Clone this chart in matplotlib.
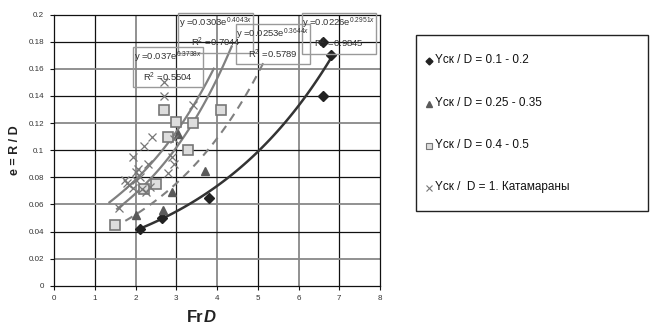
import numpy as np
import matplotlib
matplotlib.use("Agg")
import matplotlib.pyplot as plt
from matplotlib.patches import Rectangle
from matplotlib.lines import Line2D

plt.rcParams['font.family'] = ['Liberation Sans', 'DejaVu Sans']
plt.rcParams['mathtext.fontset'] = 'custom'
plt.rcParams['mathtext.rm'] = 'Liberation Sans'
plt.rcParams['mathtext.it'] = 'Liberation Sans:italic'
plt.rcParams['mathtext.bf'] = 'Liberation Sans:bold'

# --- measured points: FrD vs e = R/D ---
diam_x = [2.1, 2.65, 3.8, 6.6, 6.6, 6.8]
diam_y = [0.042, 0.050, 0.065, 0.180, 0.140, 0.170]

tri_x = [2.0, 2.68, 2.9, 3.7, 3.05]
tri_y = [0.052, 0.056, 0.069, 0.085, 0.112]

sq_x = [1.5, 2.2, 2.5, 2.7, 2.8, 3.0, 3.3, 3.4, 4.1]
sq_y = [0.045, 0.071, 0.075, 0.130, 0.110, 0.121, 0.100, 0.120, 0.130]

cat_x = [2.7, 2.7, 3.4, 2.4, 2.2, 2.95, 1.95, 2.9, 2.3, 2.95, 2.0, 2.8,
         2.1, 1.75, 2.0, 1.85, 2.35, 1.95, 2.15, 2.25, 1.6, 1.8, 2.05]
cat_y = [0.150, 0.140, 0.133, 0.110, 0.103, 0.108, 0.095, 0.095, 0.090, 0.090,
         0.084, 0.083, 0.080, 0.078, 0.078, 0.074, 0.073, 0.072, 0.071, 0.069,
         0.057, 0.076, 0.086]

# exponential trendlines y = a * exp(b x) over their x span
fit_a = [0.0226, 0.0253, 0.0303, 0.037]
fit_b = [0.2951, 0.3644, 0.4043, 0.3738]
fit_r2 = [0.9845, 0.5789, 0.7044, 0.5504]
fit_span = [(2.1, 6.8), (1.75, 5.15), (1.55, 4.36), (1.36, 3.92)]

legend_labels = ["Yск / D = 0.1 - 0.2",
                 "Yск / D = 0.25 - 0.35",
                 "Yск / D = 0.4 - 0.5",
                 "Yск /  D = 1. Катамараны"]

W, H = 651, 329
fig = plt.figure(figsize=(W / 100, H / 100), dpi=100)
ax = fig.add_axes([54 / W, 1 - 285.7 / H, (380 - 54) / W, (285.7 - 14.7) / H])
ax.set_xlim(0, 8)
ax.set_ylim(0, 0.2)

# grid: alternating dark / grey lines
xg = [1, 2, 3, 4, 5, 6, 7]
xg_col = ['#111111', '#888888', '#222222', '#888888', '#111111', '#888888', '#111111']
for v, c in zip(xg, xg_col):
    ax.axvline(v, color=c, lw=1.3 if c == '#888888' else 0.9, zorder=0)
yg = [0.02, 0.04, 0.06, 0.08, 0.10, 0.12, 0.14, 0.16, 0.18]
yg_col = ['#888888', '#111111', '#888888', '#111111', '#111111', '#888888',
          '#111111', '#888888', '#111111']
for v, c in zip(yg, yg_col):
    ax.axhline(v, color=c, lw=1.3 if c == '#888888' else 0.9, zorder=0)

for s in ax.spines.values():
    s.set_color('#111111')
    s.set_linewidth(0.9)

ax.set_xticks(np.arange(0, 9, 1))
ax.set_yticks(np.arange(0, 0.201, 0.02))
ax.set_xticklabels([str(i) for i in range(9)])
ax.set_yticklabels(['0'] + ['%g' % v for v in np.arange(0.02, 0.201, 0.02)])
ax.tick_params(labelsize=5.8, length=3, width=0.8, colors='#111111', pad=4,
               labelcolor='#333333')

# trendlines
styles = [dict(color='#333333', lw=1.8, ls='-'),
          dict(color='#808080', lw=1.5, ls=(0, (4, 3))),
          dict(color='#808080', lw=1.6, ls='-'),
          dict(color='#808080', lw=1.6, ls='-')]
for a, b, (x0, x1), st in zip(fit_a, fit_b, fit_span, styles):
    xs = np.linspace(x0, x1, 100)
    ax.plot(xs, a * np.exp(b * xs), zorder=2, **st)

# markers
ax.plot(diam_x, diam_y, 'D', color='#222222', ms=5, mec='#222222', ls='none', zorder=3)
ax.plot(tri_x, tri_y, '^', color='#5a5a5a', ms=6, mec='#5a5a5a', ls='none', zorder=3)
ax.plot(sq_x, sq_y, 's', mfc='#dddddd', mec='#777777', mew=1.2, ms=6.5, ls='none', zorder=3)
ax.plot(cat_x, cat_y, 'x', color='#777777', ms=6, mew=0.9, ls='none', zorder=3)

# equation boxes
boxes = [((6.08, 0.171), (7.91, 0.201), 0),
         ((4.47, 0.1636), (6.28, 0.193), 1),
         ((3.05, 0.172), (4.89, 0.201), 2),
         ((1.94, 0.1466), (3.66, 0.176), 3)]
for (x0, y0), (x1, y1), k in boxes:
    ax.add_patch(Rectangle((x0, y0), x1 - x0, y1 - y0, fill=False,
                           ec='#999999', lw=1.0, zorder=4, clip_on=False))
    cx = (x0 + x1) / 2
    ax.text(cx, y1 - 0.0075, r'y =%g$\mathrm{e}^{%gx}$' % (fit_a[k], fit_b[k]),
            ha='center', va='center', fontsize=6.8, color='#333333', zorder=5)
    ax.text(cx, y0 + 0.0075, r'R$^{2}$ =%.4f' % fit_r2[k],
            ha='center', va='center', fontsize=6.8, color='#333333', zorder=5)

# axis titles
fig.text(15 / W, 1 - 150 / H, 'e = R / D', rotation=90, ha='center', va='center',
         fontsize=9, fontweight='bold', color='#222222')
fig.text(204 / W, 1 - 318 / H, 'Fr', ha='right', va='center',
         fontsize=12, fontweight='bold', color='#222222')
fig.text(204 / W, 1 - 318 / H, 'D', ha='left', va='center',
         fontsize=12, fontweight='bold', fontstyle='italic', color='#222222')

# legend panel
fig.add_artist(Rectangle((416 / W, 1 - 211 / H), (648 - 416) / W, (211 - 35) / H,
                         transform=fig.transFigure, fill=False, ec='#222222', lw=1.0))
leg_y = [60, 103, 145, 187]
leg_m = [dict(marker='D', mfc='#222222', mec='#222222', ms=3.5),
         dict(marker='^', mfc='#5a5a5a', mec='#5a5a5a', ms=4.5),
         dict(marker='s', mfc='#dddddd', mec='#777777', ms=4.5, mew=0.8),
         dict(marker='x', mfc='none', mec='#777777', ms=4.5, mew=0.8)]
for yy, lab, m in zip(leg_y, legend_labels, leg_m):
    fig.add_artist(Line2D([429 / W], [1 - (yy + 1) / H], transform=fig.transFigure,
                          ls='none', **m))
    fig.text(435 / W, 1 - yy / H, lab, ha='left', va='center', fontsize=8.5,
             color='#111111')

fig.savefig('out.png', dpi=100)
